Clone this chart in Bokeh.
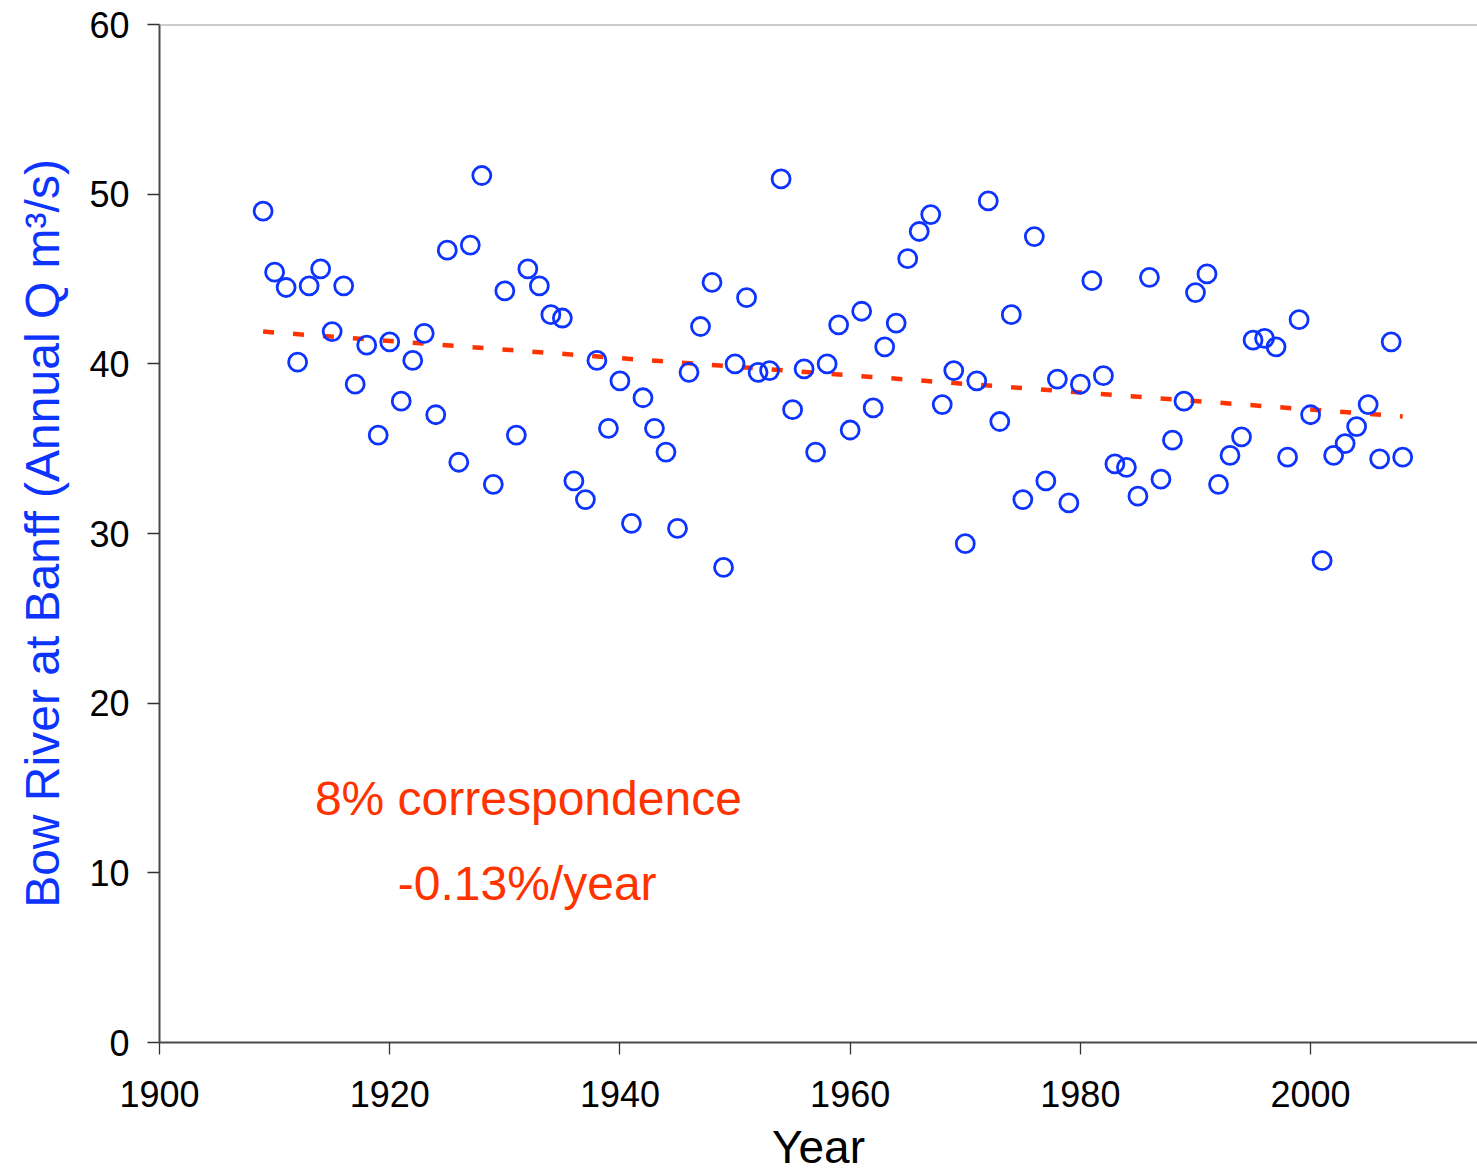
from bokeh.plotting import figure
from bokeh.models import FixedTicker, Label, Span, Range1d, ColumnDataSource
from bokeh.embed import file_html
from bokeh.resources import INLINE

# ---- data ----
years = [1909, 1910, 1911, 1912, 1913, 1914, 1915, 1916, 1917, 1918,
         1919, 1920, 1921, 1922, 1923, 1924, 1925, 1926, 1927, 1928,
         1929, 1930, 1931, 1932, 1933, 1934, 1935, 1936, 1937, 1938,
         1939, 1940, 1941, 1942, 1943, 1944, 1945, 1946, 1947, 1948,
         1949, 1950, 1951, 1952, 1953, 1954, 1955, 1956, 1957, 1958,
         1959, 1960, 1961, 1962, 1963, 1964, 1965, 1966, 1967, 1968,
         1969, 1970, 1971, 1972, 1973, 1974, 1975, 1976, 1977, 1978,
         1979, 1980, 1981, 1982, 1983, 1984, 1985, 1986, 1987, 1988,
         1989, 1990, 1991, 1992, 1993, 1994, 1995, 1996, 1997, 1998,
         1999, 2000, 2001, 2002, 2003, 2004, 2005, 2006, 2007, 2008]

flow = [49.0, 45.4, 44.5, 40.1, 44.6, 45.6, 41.9, 44.6, 38.8, 41.1,
        35.8, 41.3, 37.8, 40.2, 41.8, 37.0, 46.7, 34.2, 47.0, 51.1,
        32.9, 44.3, 35.8, 45.6, 44.6, 42.9, 42.7, 33.1, 32.0, 40.2,
        36.2, 39.0, 30.6, 38.0, 36.2, 34.8, 30.3, 39.5, 42.2, 44.8,
        28.0, 40.0, 43.9, 39.5, 39.6, 50.9, 37.3, 39.7, 34.8, 40.0,
        42.3, 36.1, 43.1, 37.4, 41.0, 42.4, 46.2, 47.8, 48.8, 37.6,
        39.6, 29.4, 39.0, 49.6, 36.6, 42.9, 32.0, 47.5, 33.1, 39.1,
        31.8, 38.8, 44.9, 39.3, 34.1, 33.9, 32.2, 45.1, 33.2, 35.5,
        37.8, 44.2, 45.3, 32.9, 34.6, 35.7, 41.4, 41.5, 41.0, 34.5,
        42.6, 37.0, 28.4, 34.6, 35.3, 36.3, 37.6, 34.4, 41.3, 34.5]

trend_years = [1909, 2008]
trend_values = [41.9, 36.9]

x_ticks = [1900, 1920, 1940, 1960, 1980, 2000]
y_ticks = [0, 10, 20, 30, 40, 50, 60]

annot_1 = "8% correspondence"
annot_2 = "-0.13%/year"

BLUE = "#0d33ff"
RED = "#ff3300"
FONT = "Liberation Sans"

p = figure(width=1477, height=1175, output_backend="svg", toolbar_location=None,
           x_range=Range1d(1900, 2014.5), y_range=Range1d(0, 60),
           min_border_left=159, min_border_top=24, min_border_bottom=133,
           min_border_right=0)

p.outline_line_color = None
p.xgrid.visible = False
p.ygrid.visible = False
p.background_fill_color = "white"
p.border_fill_color = "white"

# top border line of the frame
p.add_layout(Span(location=60, dimension="width", line_color="#999999", line_width=2))

src = ColumnDataSource(dict(year=years, flow=flow))
p.line(trend_years, trend_values, line_color=RED, line_width=4.5, line_dash="11 19")
p.scatter("year", "flow", source=src, marker="circle", size=18,
          line_color=BLUE, line_width=2.8, fill_alpha=0)

# axes
p.xaxis.ticker = FixedTicker(ticks=x_ticks)
p.yaxis.ticker = FixedTicker(ticks=y_ticks)
for ax in (p.xaxis[0], p.yaxis[0]):
    ax.minor_tick_line_color = None
    ax.major_tick_in = 0
    ax.major_tick_out = 12
    ax.major_tick_line_color = "#333333"
    ax.major_tick_line_width = 1.3
    ax.axis_line_color = "#4a4a4a"
    ax.axis_line_width = 2
    ax.major_label_text_font = FONT
    ax.major_label_text_font_size = "36px"
    ax.major_label_text_color = "black"
    ax.axis_label_text_font = FONT
    ax.axis_label_text_font_style = "normal"

p.xaxis.major_label_standoff = 26
p.xaxis.axis_label = "Year"
p.xaxis.axis_label_text_font_size = "46px"
p.xaxis.axis_label_text_color = "black"
p.xaxis.axis_label_standoff = 11

p.yaxis.major_label_standoff = 18
p.yaxis.axis_label = "Bow River at Banff (Annual Q m\u00b3/s)"
p.yaxis.axis_label_text_font_size = "48px"
p.yaxis.axis_label_text_color = BLUE
p.yaxis.axis_label_standoff = 17

p.add_layout(Label(x=1913.5, y=14.38, text=annot_1, text_font=FONT,
                   text_font_size="48px", text_color=RED,
                   text_align="left", text_baseline="alphabetic"))
p.add_layout(Label(x=1920.7, y=9.38, text=annot_2, text_font=FONT,
                   text_font_size="48px", text_color=RED,
                   text_align="left", text_baseline="alphabetic"))

open("out.html", "w").write(file_html(p, INLINE))
